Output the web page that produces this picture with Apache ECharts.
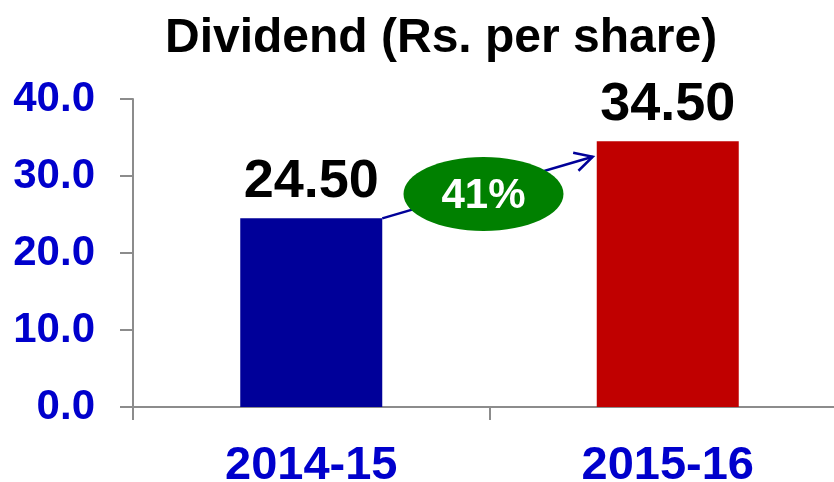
<!DOCTYPE html>
<html><head><meta charset="utf-8">
<script src="https://cdn.jsdelivr.net/npm/echarts@6/dist/echarts.min.js"></script>
<style>html,body{margin:0;padding:0;background:#fff}#c{width:834px;height:482px}</style>
</head><body><div id="c"></div>
<script>
const categories = ['2014-15', '2015-16'];
const dividend = [24.50, 34.50];
const barColors = ['#000099', '#C00000'];
const yTicks = [0, 10, 20, 30, 40];
const growthLabel = '41%';
const arrowEndValue = 32.5;

const FONT = 'Liberation Sans, Arial, sans-serif';
const chart = echarts.init(document.getElementById('c'));
chart.setOption({
  animation: false,
  title: {
    text: 'Dividend (Rs. per share)', left: 160, top: 10,
    textStyle: { fontFamily: FONT, fontWeight: 'bold', fontSize: 48, color: '#000' }
  },
  grid: { left: 133, right: -12, top: 99, bottom: 75, containLabel: false, outerBoundsMode: 'none' },
  xAxis: {
    type: 'category', data: categories,
    axisLine: { lineStyle: { color: '#8c8c8c', width: 2 } },
    axisTick: { show: true, length: 13, lineStyle: { color: '#8c8c8c', width: 2 } },
    axisLabel: { margin: 36, fontFamily: FONT, fontWeight: 'bold', fontSize: 47, color: '#0000CC' }
  },
  yAxis: {
    type: 'value', min: yTicks[0], max: yTicks[yTicks.length - 1], interval: 10,
    splitLine: { show: false },
    axisLine: { show: true, lineStyle: { color: '#8c8c8c', width: 2 } },
    axisTick: { show: true, length: 13, lineStyle: { color: '#8c8c8c', width: 2 } },
    axisLabel: { margin: 38, fontFamily: FONT, fontWeight: 'bold', fontSize: 42, color: '#0000CC',
      formatter: v => v.toFixed(1) }
  },
  series: [{
    type: 'bar', barWidth: 142,
    data: dividend.map((v, i) => ({ value: v, itemStyle: { color: barColors[i] } })),
    label: { show: true, position: 'top', distance: 9, fontFamily: FONT, fontWeight: 'bold',
      fontSize: 54, color: '#000', formatter: p => p.value.toFixed(2) }
  }]
});

function drawAnnot() {
  const half = 71;
  const p0 = chart.convertToPixel({ gridIndex: 0 }, [0, dividend[0]]);
  const p1 = chart.convertToPixel({ gridIndex: 0 }, [1, arrowEndValue]);
  const x0 = p0[0] + half, y0 = p0[1];
  const x1 = p1[0] - half - 4, y1 = p1[1];
  const ang = Math.atan2(y1 - y0, x1 - x0);
  const hl = 20, ha = 0.49;
  const a1 = [x1 - hl * Math.cos(ang - ha), y1 - hl * Math.sin(ang - ha)];
  const a2 = [x1 - hl * Math.cos(ang + ha), y1 - hl * Math.sin(ang + ha)];
  const cx = (x0 + x1) / 2 - 4, cy = (y0 + y1) / 2 + 6.5;
  chart.setOption({
    graphic: [
      { type: 'line', shape: { x1: x0, y1: y0, x2: x1, y2: y1 }, style: { stroke: '#000099', lineWidth: 2.5 }, z: 10 },
      { type: 'polyline', shape: { points: [a1, [x1, y1], a2] }, style: { stroke: '#000099', lineWidth: 2.5, fill: null }, z: 10 },
      { type: 'ellipse', shape: { cx: cx, cy: cy, rx: 80, ry: 37 }, style: { fill: '#008000' }, z: 11 },
      { type: 'text', x: cx, y: cy + 2, style: { text: growthLabel, fill: '#fff', font: 'bold 42px ' + FONT,
        align: 'center', verticalAlign: 'middle' }, z: 12 }
    ]
  });
}
drawAnnot();
</script></body></html>
